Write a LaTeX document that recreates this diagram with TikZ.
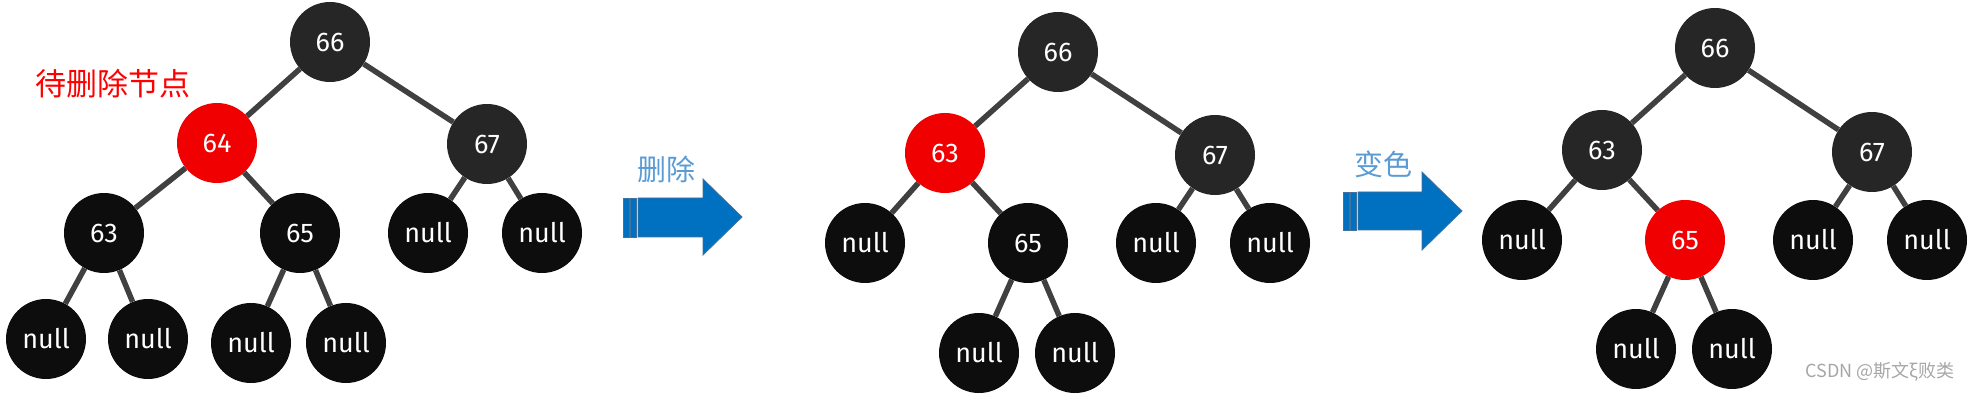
\documentclass[tikz,border=0pt]{standalone}
\usepackage{fontspec}
\newfontfamily\nodefont{Fira Sans}
\newfontfamily\cjk{Noto Sans CJK SC}
\definecolor{rbred}{HTML}{F00000}
\definecolor{topgray}{HTML}{262626}
\definecolor{nodeblack}{HTML}{0D0D0D}
\definecolor{edgegray}{HTML}{404040}
\definecolor{arrowblue}{HTML}{0070C0}
\definecolor{arrowline}{HTML}{41719C}
\definecolor{labelblue}{HTML}{5B9BD5}
\definecolor{wmgray}{HTML}{A6A6A6}
\tikzset{
  rb/.style={circle, minimum size=80pt, inner sep=0pt, text=white, font=\nodefont\fontsize{27}{29}\selectfont},
  dk/.style={rb, fill=topgray},
  bk/.style={rb, fill=nodeblack},
  rd/.style={rb, fill=rbred},
  edge/.style={draw=edgegray, line width=5.5pt},
  bigarrow/.style={fill=arrowblue, draw=arrowline, line width=0.8pt},
  arrowlabel/.style={text=labelblue, font=\cjk\fontsize{29}{31}\selectfont, inner sep=0pt},
}
\begin{document}
\begin{tikzpicture}[x=1pt, y=-1pt]
\useasboundingbox (0,0) rectangle (1973,395);
% ---------- tree 1 ----------
\node[dk] (a66) at (330,42) {66};
\node[rd] (a64) at (217,143) {64};
\node[dk] (a67) at (487,144) {67};
\node[bk] (a63) at (104,233) {63};
\node[bk] (a65) at (300,233) {65};
\node[bk] (an1) at (428,233) {null};
\node[bk] (an2) at (542,233) {null};
\node[bk] (an3) at (46,339) {null};
\node[bk] (an4) at (148,339) {null};
\node[bk] (an5) at (251,343) {null};
\node[bk] (an6) at (346,343) {null};
\draw[edge] (a66) -- (a64);
\draw[edge] (a66) -- (a67);
\draw[edge] (a64) -- (a63);
\draw[edge] (a64) -- (a65);
\draw[edge] (a67) -- (an1);
\draw[edge] (a67) -- (an2);
\draw[edge] (a63) -- (an3);
\draw[edge] (a63) -- (an4);
\draw[edge] (a65) -- (an5);
\draw[edge] (a65) -- (an6);
\node[text=red, font=\cjk\fontsize{31}{33}\selectfont, inner sep=0pt] (lbl) at (113,84) {待删除节点};
% ---------- arrow 1 ----------
\fill[arrowblue] (623,198) rectangle (629,237);
\fill[arrowblue] (630.5,198) rectangle (636.5,237);
\draw[arrowline, line width=0.6pt] (623,198) rectangle (629,237) (630.5,198) rectangle (636.5,237);
\path[bigarrow] (638,198) -- (703,198) -- (703,179) -- (742,217) -- (703,255) -- (703,237) -- (638,237) -- cycle;
\node[arrowlabel] (del) at (666,169) {删除};
% ---------- tree 2 ----------
\node[dk] (b66) at (1058,52) {66};
\node[rd] (b63) at (945,153) {63};
\node[dk] (b67) at (1215,155) {67};
\node[bk] (bn1) at (865,243) {null};
\node[bk] (b65) at (1028,243) {65};
\node[bk] (bn2) at (1156,243) {null};
\node[bk] (bn3) at (1270,243) {null};
\node[bk] (bn4) at (979,353) {null};
\node[bk] (bn5) at (1075,353) {null};
\draw[edge] (b66) -- (b63);
\draw[edge] (b66) -- (b67);
\draw[edge] (b63) -- (bn1);
\draw[edge] (b63) -- (b65);
\draw[edge] (b67) -- (bn2);
\draw[edge] (b67) -- (bn3);
\draw[edge] (b65) -- (bn4);
\draw[edge] (b65) -- (bn5);
% ---------- arrow 2 ----------
\fill[arrowblue] (1343,192) rectangle (1349,230);
\fill[arrowblue] (1350.5,192) rectangle (1356.5,230);
\draw[arrowline, line width=0.6pt] (1343,192) rectangle (1349,230) (1350.5,192) rectangle (1356.5,230);
\path[bigarrow] (1358,192) -- (1422,192) -- (1422,172) -- (1462,211) -- (1422,250) -- (1422,230) -- (1358,230) -- cycle;
\node[arrowlabel] (recolor) at (1383,164) {变色};
% ---------- tree 3 ----------
\node[dk] (c66) at (1715,48) {66};
\node[dk] (c63) at (1602,150) {63};
\node[dk] (c67) at (1872,152) {67};
\node[bk] (cn1) at (1522,240) {null};
\node[rd] (c65) at (1685,240) {65};
\node[bk] (cn2) at (1813,240) {null};
\node[bk] (cn3) at (1927,240) {null};
\node[bk] (cn4) at (1636,349) {null};
\node[bk] (cn5) at (1732,349) {null};
\draw[edge] (c66) -- (c63);
\draw[edge] (c66) -- (c67);
\draw[edge] (c63) -- (cn1);
\draw[edge] (c63) -- (c65);
\draw[edge] (c67) -- (cn2);
\draw[edge] (c67) -- (cn3);
\draw[edge] (c65) -- (cn4);
\draw[edge] (c65) -- (cn5);
% ---------- watermark ----------
\node[text=wmgray, font=\cjk\fontsize{18}{20}\selectfont, inner sep=0pt] (wm) at (1880,372) {CSDN @斯文ξ败类};
\end{tikzpicture}
\end{document}
